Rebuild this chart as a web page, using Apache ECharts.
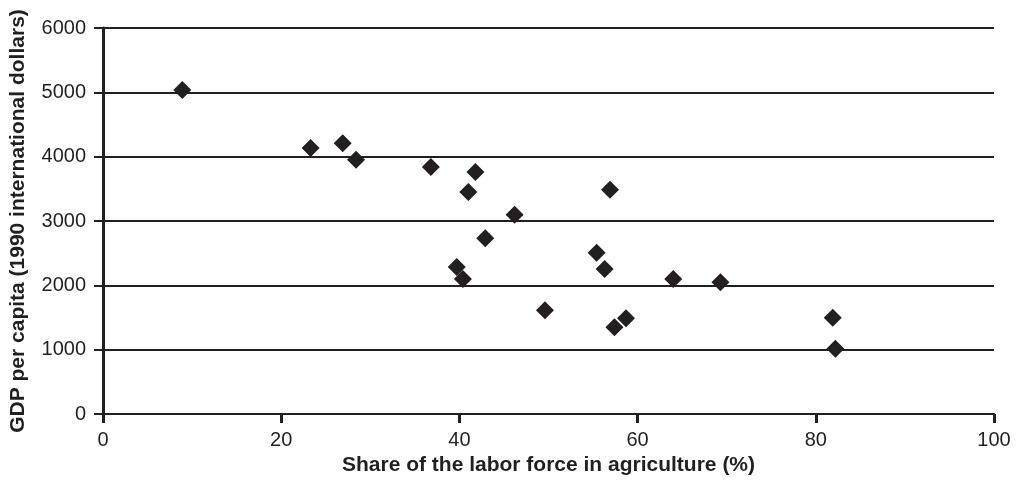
<!DOCTYPE html>
<html>
<head>
<meta charset="utf-8">
<script src="https://cdn.jsdelivr.net/npm/echarts@6/dist/echarts.min.js"></script>
<style>
html,body{margin:0;padding:0;background:#fff;}
#chart{width:1019px;height:484px;}
</style>
</head>
<body>
<div id="chart"></div>
<script>
// Share of labor force in agriculture (%)
var agriShare = [8.9, 23.3, 26.9, 28.4, 36.8, 41.8, 41.0, 46.2, 42.9, 39.7, 40.4, 56.9, 49.6, 55.4, 56.3, 64.0, 69.3, 58.7, 57.4, 81.9, 82.2];
// GDP per capita (1990 international dollars)
var gdpPerCapita = [5037, 4135, 4207, 3953, 3840, 3762, 3451, 3099, 2731, 2286, 2099, 3487, 1612, 2508, 2255, 2099, 2047, 1487, 1347, 1498, 1016];
var xTicks = [0, 20, 40, 60, 80, 100];
var yTicks = [0, 1000, 2000, 3000, 4000, 5000, 6000];
var xTitle = 'Share of the labor force in agriculture (%)';
var yTitle = 'GDP per capita (1990 international dollars)';

var points = agriShare.map(function (x, i) { return [x, gdpPerCapita[i]]; });
var ink = '#231f20';
var font = 'Liberation Sans, Arial, Helvetica, sans-serif';
var chart = echarts.init(document.getElementById('chart'));
chart.setOption({
  animation: false,
  backgroundColor: '#ffffff',
  grid: { left: 101, right: 25, top: 28, bottom: 70, containLabel: false },
  xAxis: {
    type: 'value',
    min: xTicks[0], max: xTicks[xTicks.length - 1], interval: 20,
    name: xTitle, nameLocation: 'middle', nameGap: 36,
    nameTextStyle: { fontFamily: font, fontWeight: 'bold', fontSize: 21, color: ink },
    axisLine: { show: true, onZero: false, lineStyle: { color: ink, width: 2 } },
    axisTick: { show: true, inside: false, length: 9, lineStyle: { color: ink, width: 3 } },
    axisLabel: { margin: 16, fontFamily: font, fontSize: 20, color: ink, formatter: function (v) { return String(v); } },
    splitLine: { show: false }
  },
  yAxis: {
    type: 'value',
    min: yTicks[0], max: yTicks[yTicks.length - 1], interval: 1000,
    name: yTitle, nameLocation: 'middle', nameGap: 74, nameRotate: 90,
    nameTextStyle: { fontFamily: font, fontWeight: 'bold', fontSize: 21, color: ink },
    axisLine: { show: true, lineStyle: { color: ink, width: 3 } },
    axisTick: { show: true, inside: false, length: 9, lineStyle: { color: ink, width: 2 } },
    axisLabel: { margin: 17, fontFamily: font, fontSize: 20, color: ink, formatter: function (v) { return String(v); } },
    splitLine: { show: true, lineStyle: { color: ink, width: 2 } }
  },
  series: [{
    type: 'scatter',
    data: points,
    symbol: 'diamond',
    symbolSize: 18,
    itemStyle: { color: ink, opacity: 1 }
  }]
});
</script>
</body>
</html>
